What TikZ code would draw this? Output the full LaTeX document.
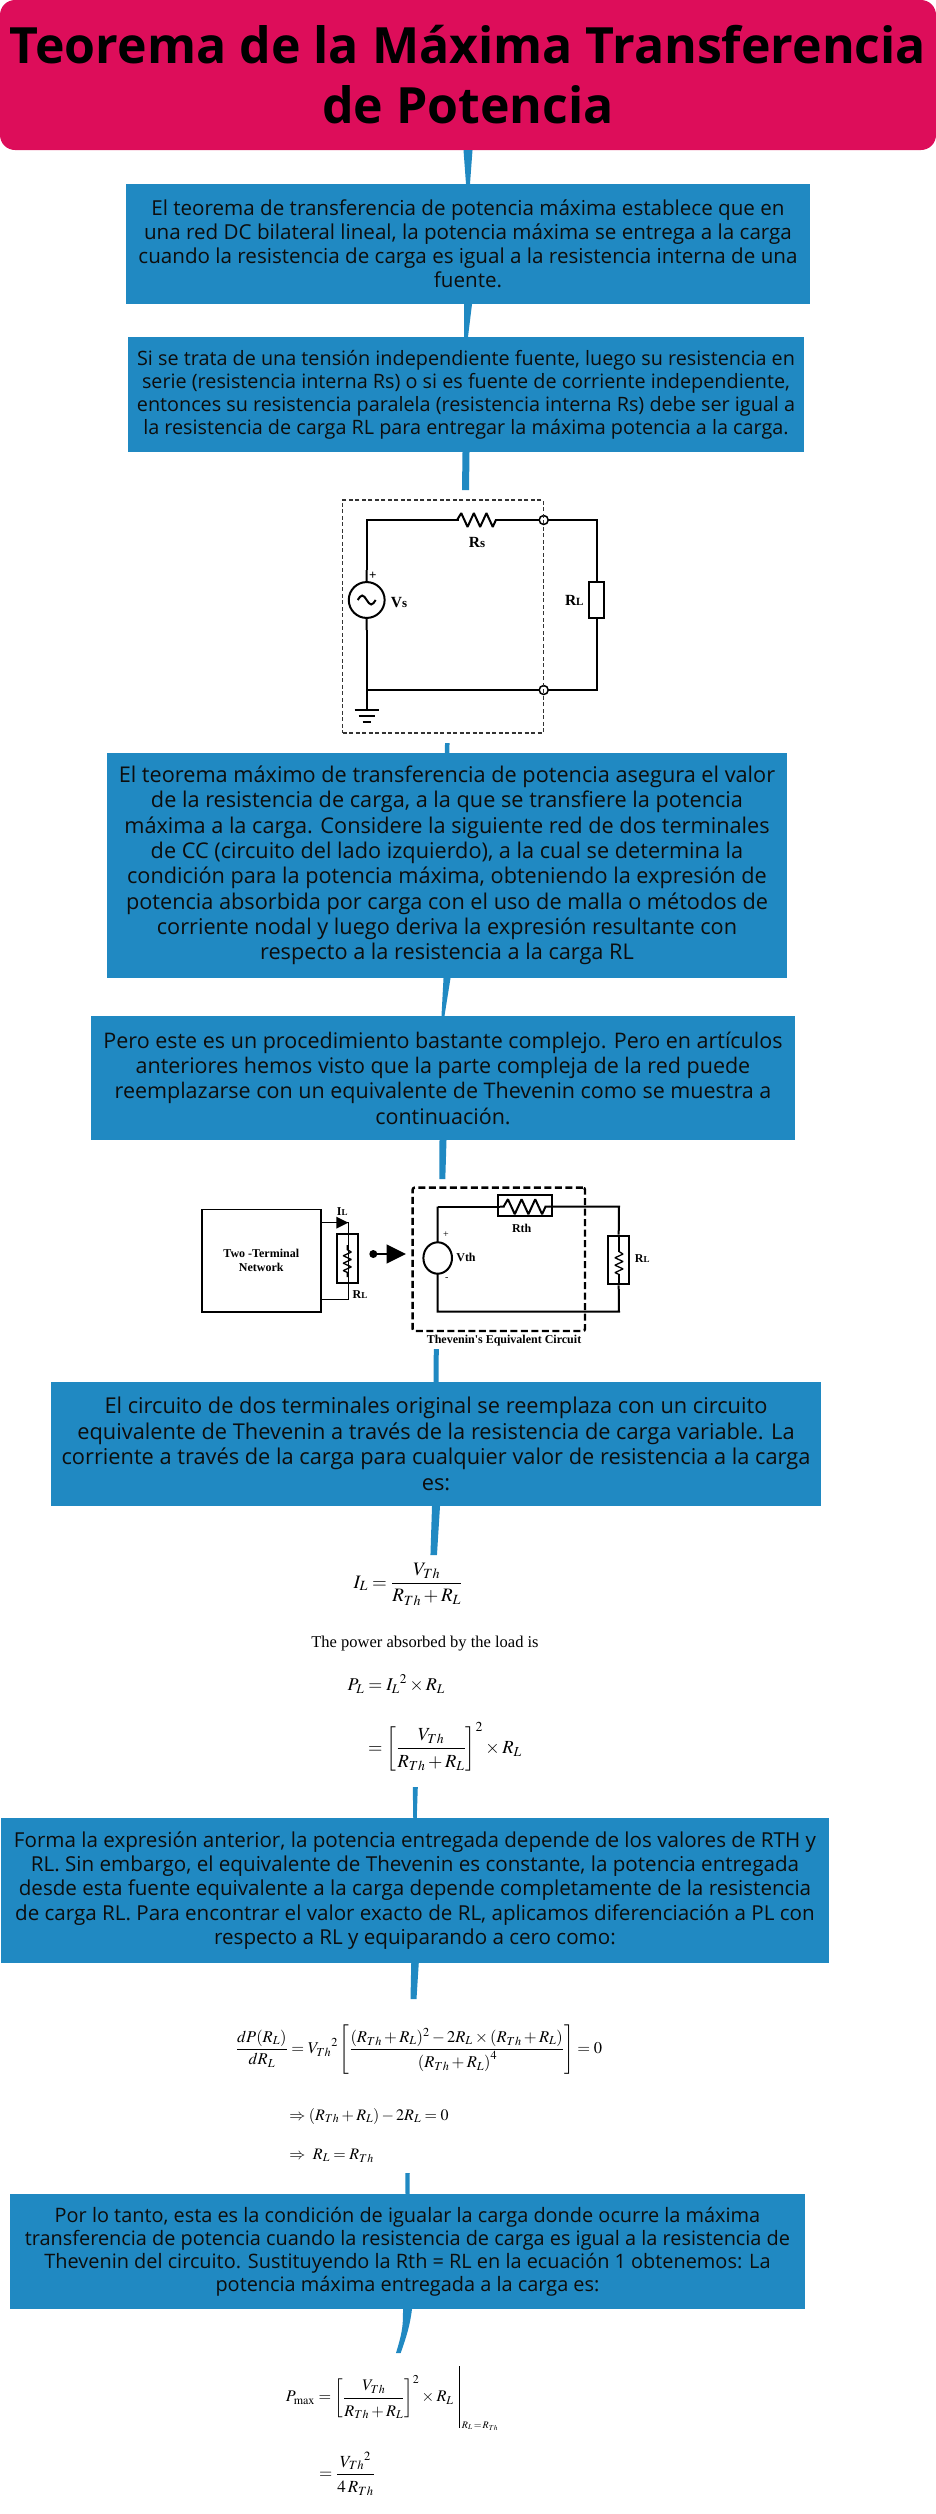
\documentclass[tikz,border=0pt]{standalone}
\usepackage{amsmath}
\usepackage{mathptmx}
\usepackage[no-math]{fontspec}
\setmainfont{Open Sans}
\newfontfamily\figfont{Liberation Serif}
\usepackage{circuitikz}
\usetikzlibrary{calc, arrows.meta, shapes.geometric}
\definecolor{headpink}{RGB}{221,13,90}
\definecolor{boxblue}{RGB}{32,137,194}
\ctikzset{bipoles/thickness=1, bipoles/length=46pt}
\newcommand{\gapfrac}[2]{\frac{#1\rule[-3pt]{0pt}{0pt}}{\rule{0pt}{16pt}#2}}

\begin{document}
\begin{tikzpicture}[x=1pt, y=-1pt,
	textbox/.style n args={4}{fill=boxblue, text=black!95, align=center, inner sep=0pt, minimum width=#1, minimum height=#2, font=\fontsize{#3}{#4}\selectfont},
	taper/.style 2 args={to path={($(\tikztostart)+(-#1/2,0)$) -- ($(\tikztostart)+(#1/2,0)$) -- ($(\tikztotarget)+(#2/2,0)$) -- ($(\tikztotarget)+(-#2/2,0)$) -- cycle}},
	link/.style={fill=boxblue},
	wire/.style={line width=2pt, line join=miter},
	term/.style={circle, draw, fill=white, line width=1.5pt, inner sep=0pt, minimum size=9pt},
	lab/.style={inner sep=0pt, font=\figfont\bfseries\fontsize{15.5}{17}\selectfont},
	smalllab/.style={inner sep=0pt, align=center, font=\figfont\bfseries\fontsize{12}{14}\selectfont},
	formula/.style={inner sep=0pt, font=\fontsize{#1}{#1}\selectfont},
	rbox/.style={draw, line width=2pt, inner sep=0pt, minimum width=#1}]
	\useasboundingbox (0, 0) rectangle (936, 2514);

	% Boxes:
	\node[fill=headpink, rounded corners=15pt, align=center, inner sep=0pt, minimum width=936pt, minimum height=150pt, font=\bfseries\fontsize{50}{60}\selectfont] (title) at (468, 75) {Teorema de la Máxima Transferencia\\de Potencia};
	\node[textbox={684pt}{120pt}{20.6}{24}] (box1) at (468, 244) {El teorema de transferencia de potencia máxima establece que en\\una red DC bilateral lineal, la potencia máxima se entrega a la carga\\cuando la resistencia de carga es igual a la resistencia interna de una\\fuente.};
	\node[textbox={676pt}{115pt}{19.8}{23}] (box2) at (466, 394.5) {Si se trata de una tensión independiente fuente, luego su resistencia en\\serie (resistencia interna Rs) o si es fuente de corriente independiente,\\entonces su resistencia paralela (resistencia interna Rs) debe ser igual a\\la resistencia de carga RL para entregar la máxima potencia a la carga.};
	\node[textbox={680pt}{225pt}{21.7}{25.3}] (box3) at (447, 865.5) {El teorema máximo de transferencia de potencia asegura el valor\\de la resistencia de carga, a la que se transfiere la potencia\\máxima a la carga. Considere la siguiente red de dos terminales\\de CC (circuito del lado izquierdo), a la cual se determina la\\condición para la potencia máxima, obteniendo la expresión de\\potencia absorbida por carga con el uso de malla o métodos de\\corriente nodal y luego deriva la expresión resultante con\\respecto a la resistencia a la carga RL};
	\node[textbox={704pt}{124pt}{21.5}{25.3}] (box4) at (443, 1078) {Pero este es un procedimiento bastante complejo. Pero en artículos\\anteriores hemos visto que la parte compleja de la red puede\\reemplazarse con un equivalente de Thevenin como se muestra a\\continuación.};
	\node[textbox={770pt}{124pt}{21.8}{25.5}] (box5) at (436, 1444) {El circuito de dos terminales original se reemplaza con un circuito\\equivalente de Thevenin a través de la resistencia de carga variable. La\\corriente a través de la carga para cualquier valor de resistencia a la carga\\es:};
	\node[textbox={828pt}{145pt}{20.6}{24.2}] (box6) at (415, 1890.5) {Forma la expresión anterior, la potencia entregada depende de los valores de RTH y\\RL. Sin embargo, el equivalente de Thevenin es constante, la potencia entregada\\desde esta fuente equivalente a la carga depende completamente de la resistencia\\de carga RL. Para encontrar el valor exacto de RL, aplicamos diferenciación a PL con\\respecto a RL y equiparando a cero como:};
	\node[textbox={795pt}{115pt}{19.9}{23}] (box7) at (407.5, 2251.5) {Por lo tanto, esta es la condición de igualar la carga donde ocurre la máxima\\transferencia de potencia cuando la resistencia de carga es igual a la resistencia de\\Thevenin del circuito. Sustituyendo la Rth = RL en la ecuación 1 obtenemos: La\\potencia máxima entregada a la carga es:};

	% First circuit:
	\coordinate (stop) at (366.7, 520);
	\coordinate (sbot) at (366.7, 690);
	\coordinate (srca) at (366.7, 630);
	\coordinate (srcb) at (366.7, 570);
	\coordinate (rsa) at (458, 520);
	\coordinate (rsb) at (495, 520);
	\coordinate (ltop) at (597.3, 520);
	\coordinate (lbot) at (597.3, 690);
	\coordinate (gnd) at (366.7, 710);
	\begin{scope}
		\ctikzset{sources/scale=1.3}
		\draw[wire] (srca) to[sV] (srcb);
	\end{scope}
	\draw[wire] (srcb) -- (stop) -- (rsa) to[american resistor] (rsb) -- (ltop) -- (lbot) -- (sbot) -- (srca);
	\draw[wire] (sbot) -- (gnd);
	\node[rbox=15pt, fill=white, minimum height=36.6pt] (rl) at (596.8, 600) {};
	\draw[line width=2pt] (354.7, 710) -- (378.7, 710);
	\draw[line width=2pt] (358.7, 716) -- (374.7, 716);
	\draw[line width=2pt] (362.7, 722) -- (370.7, 722);
	\node[term] (tup) at (543.7, 520) {};
	\node[term] (tdown) at (543.7, 690) {};
	\node[draw=black!80, line width=1.4pt, dash pattern={on 4pt off 2.5pt}, minimum width=200.6pt, minimum height=233pt, inner sep=0pt] (frame) at (443, 616.5) {};
	\node[lab] (rslabel) at (477, 542) {R\fontsize{13}{15}\selectfont s};
	\node[lab] (vslabel) at (399, 602.7) {V\fontsize{13}{15}\selectfont s};
	\node[lab] (rllabel) at (574.3, 600) {R\fontsize{11}{15}\selectfont L};
	\node[inner sep=0pt, font=\figfont\bfseries\fontsize{13}{13}\selectfont] (splus) at (372.7, 576) {+};

	% Second circuit:
	\node[draw, line width=1.7pt, minimum width=119.3pt, minimum height=102.7pt, inner sep=0pt, smalllab] (net) at (261.3, 1260.7) {Two -Terminal\\Network};
	\coordinate (ntop) at (348.3, 1222.7);
	\coordinate (nbot) at (348.3, 1299.3);
	\coordinate (vdot) at (373.3, 1254);
	\coordinate (vtip) at (406, 1254);
	\coordinate (ttl) at (437.7, 1206.7);
	\coordinate (tbl) at (437.7, 1311.7);
	\coordinate (rtha) at (500, 1206.7);
	\coordinate (rthb) at (549, 1206.7);
	\coordinate (ttr) at (619, 1206.7);
	\coordinate (tbr) at (619, 1311.7);
	\draw[line width=1.3pt] (net.east |- ntop) -- (ntop) -- (nbot) -- (net.east |- nbot);
	\fill (ntop) -- ++(-12, -6) -- ++(0, 12) -- cycle;
	\begin{scope}
		\ctikzset{bipoles/length=27pt}
		\draw[line width=1.3pt] (347.3, 1245) to[american resistor] (347.3, 1277);
		\draw[line width=1.3pt] (619, 1247) to[american resistor] (619, 1279);
	\end{scope}
	\node[rbox=20.7pt, minimum height=48.4pt] (rla) at (347.3, 1258.5) {};
	\node[rbox=20.7pt, minimum height=48.6pt] (rlb) at (618.7, 1260) {};
	\fill (vdot) circle (4);
	\draw[line width=2pt, -{Triangle[length=19.3pt, width=18.6pt]}] (vdot) -- (vtip);
	\draw[wire] (ttl) -- (rtha);
	\begin{scope}
		\ctikzset{bipoles/length=50pt}
		\draw[wire] (rtha) to[american resistor] (rthb);
	\end{scope}
	\draw[wire] (rthb) -- (ttr) -- (rlb.north);
	\draw[wire] (rlb.south) -- (tbr) -- (tbl) -- (ttl);
	\draw[line width=1.3pt] (619, 1235) -- (619, 1247) (619, 1279) -- (619, 1285);
	\node[rbox=54pt, minimum height=21.3pt] (rth) at (524.7, 1205.7) {};
	\node[draw, fill=white, ellipse, line width=2pt, minimum width=28.6pt, minimum height=31.4pt, inner sep=0pt] (vth) at (437.7, 1258) {};
	\node[draw, line width=2.4pt, dash pattern={on 7pt off 3.5pt}, rounded corners=2pt, minimum width=172.3pt, minimum height=143.3pt, inner sep=0pt] (equiv) at (498.8, 1259.3) {};
	\node[smalllab] (thlabel) at (504, 1340.3) {Thevenin's Equivalent Circuit};
	\node[smalllab] (rthlabel) at (521.7, 1228.3) {Rth};
	\node[smalllab] (vthlabel) at (466, 1257.7) {Vth};
	\node[smalllab] (illabel) at (342.3, 1212) {I\fontsize{9}{11}\selectfont L};
	\node[smalllab] (rlalabel) at (360, 1294.3) {R\fontsize{9}{11}\selectfont L};
	\node[smalllab] (rlblabel) at (642.3, 1259) {R\fontsize{9}{11}\selectfont L};
	\node[inner sep=0pt, font=\figfont\fontsize{10}{10}\selectfont] (vplus) at (446, 1234.3) {+};
	\node[inner sep=0pt, font=\figfont\fontsize{10}{10}\selectfont] (vminus) at (446.7, 1279.3) {-};

	% Formulas:
	\node[formula=19] (il) at (408, 1584) {$\displaystyle I_L=\gapfrac{V_{Th}}{R_{Th}+R_L}$};
	\node[inner sep=0pt, font=\figfont\fontsize{16.5}{18}\selectfont] (powertext) at (425, 1644) {The power absorbed by the load is};
	\node[formula=18] (pl) at (396.3, 1684) {$P_L=I_L{}^2\times R_L$};
	\node[formula=18.5] (plb) at (445, 1746.7) {$\displaystyle=\left[\gapfrac{V_{Th}}{R_{Th}+R_L}\right]^2\times R_L$};
	\node[formula=16.5] (dp) at (419, 2049.3) {$\displaystyle\frac{dP(R_L)}{dR_L}=V_{Th}{}^2\left[\gapfrac{(R_{Th}+R_L)^2-2R_L\times(R_{Th}+R_L)}{\left(R_{Th}+R_L\right)^4}\right]=0$};
	\node[formula=16] (impa) at (369, 2116) {$\Rightarrow(R_{Th}+R_L)-2R_L=0$};
	\node[formula=16] (impb) at (331.5, 2155.7) {$\Rightarrow\ R_L=R_{Th}$};
	\node[formula=16.2, anchor=west] (pmax) at (285.7, 2397) {$\displaystyle P_{\max}=\left[\gapfrac{V_{Th}}{R_{Th}+R_L}\right]^2\times R_L$};
	\node[formula=10, anchor=west] (pmaxsub) at (461.7, 2426) {$R_L\!=\!R_{Th}$};
	\coordinate (bartop) at (459.3, 2366);
	\coordinate (barbot) at (459.3, 2428);
	\draw[line width=1pt] (bartop) -- (barbot);
	\node[formula=17] (pmaxb) at (347, 2474) {$\displaystyle=\gapfrac{V_{Th}{}^2}{4\,R_{Th}}$};

	% Links:
	\coordinate (cira) at (465.5, 490);
	\coordinate (cirb) at (447.3, 743);
	\coordinate (circ) at (442.3, 1179);
	\coordinate (cird) at (436.3, 1349);
	\coordinate (eqa) at (433.7, 1555);
	\coordinate (eqb) at (415.3, 1787);
	\coordinate (eqc) at (413.5, 1999);
	\coordinate (eqd) at (407.5, 2173);
	\fill[link] (title.south) to[taper={9}{4}] (box1.north);
	\fill[link] (box1.south) to[taper={8}{4}] (box2.north);
	\fill[link] (box2.south) to[taper={7}{7}] (cira);
	\fill[link] (cirb) to[taper={4.5}{4.5}] (box3.north);
	\fill[link] (box3.south) to[taper={7}{3}] (box4.north);
	\fill[link] (box4.south) to[taper={7}{6}] (circ);
	\fill[link] (cird) to[taper={5}{5}] (box5.north);
	\fill[link] (box5.south) to[taper={8}{6.5}] (eqa);
	\fill[link] (eqb) to[taper={5}{3.5}] (box6.north);
	\fill[link] (box6.south) to[taper={7.5}{6}] (eqc);
	\fill[link] (eqd) to[taper={4.5}{4}] (box7.north);
	\fill[link] (box7.south) ++(-4.5, 0) .. controls (403, 2325) and (403, 2330) .. (396, 2353) -- (400.7, 2353) .. controls (407, 2335) and (410, 2325) .. (412, 2309) -- cycle;
\end{tikzpicture}
\end{document}
